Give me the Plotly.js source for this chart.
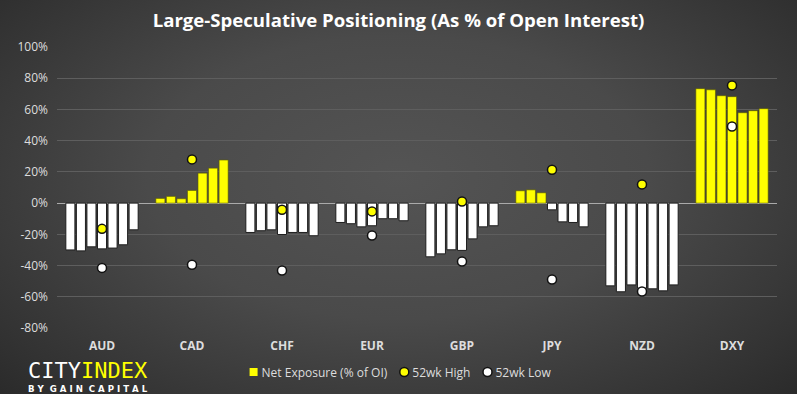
<!DOCTYPE html>
<html>
<head>
<meta charset="utf-8">
<script src="https://cdn.plot.ly/plotly-3.0.1.min.js"></script>
<style>
  html, body { margin: 0; padding: 0; }
  body { width: 797px; height: 394px; overflow: hidden;
    background: radial-gradient(ellipse 70% 80% at 50% 45%, #545454 0%, #4a4a4a 45%, #333333 85%, #2a2a2a 100%); }
  #chart { width: 797px; height: 394px; }
</style>
</head>
<body>
<div id="chart"></div>
<script>
// ---- Data (values in % of open interest) ----
const categories = ['AUD', 'CAD', 'CHF', 'EUR', 'GBP', 'JPY', 'NZD', 'DXY'];
const weeks = ['W1', 'W2', 'W3', 'W4', 'W5', 'W6', 'W7'];

const netAUD = [-30.0, -30.6, -28.0, -29.3, -28.8, -26.7, -17.1];
const netCAD = [3.0, 4.3, 2.8, 8.1, 19.2, 22.4, 27.6];
const netCHF = [-18.8, -17.7, -17.1, -20.1, -18.8, -18.8, -20.9];
const netEUR = [-12.4, -13.2, -15.2, -14.5, -10.0, -10.0, -11.3];
const netGBP = [-34.4, -32.5, -29.9, -30.3, -22.9, -15.2, -14.5];
const netJPY = [7.9, 8.5, 6.6, -4.3, -12.0, -12.4, -15.2];
const netNZD = [-53.0, -56.8, -52.4, -54.5, -54.9, -56.2, -52.4];
const netDXY = [73.3, 72.6, 68.8, 68.2, 57.9, 59.2, 60.5];

const high52 = [-16.5, 28.0, -4.3, -5.3, 1.0, 21.4, 12.0, 75.4];
const low52  = [-41.5, -39.5, -43.2, -20.7, -37.4, -48.9, -56.6, 49.1];

const yTickVals = [-80, -60, -40, -20, 0, 20, 40, 60, 80, 100];
const yTickText = ['-80%', '-60%', '-40%', '-20%', '0%', '20%', '40%', '60%', '80%', '100%'];

// ---- Build traces ----
const netByCat = [netAUD, netCAD, netCHF, netEUR, netGBP, netJPY, netNZD, netDXY];
const YELLOW = '#ffff00';
const WHITE = '#ffffff';

const traces = [];
weeks.forEach((w, wi) => {
  const ys = netByCat.map(arr => arr[wi]);
  traces.push({
    type: 'bar',
    name: w,
    x: categories,
    y: ys,
    showlegend: false,
    marker: {
      color: ys.map(v => v >= 0 ? YELLOW : WHITE),
      line: { color: ys.map(v => v >= 0 ? 'rgba(90,90,0,0.6)' : '#1e1e1e'), width: 1 }
    },
    hoverinfo: 'skip'
  });
});

// legend entry for the bars
traces.push({
  type: 'scatter', mode: 'markers', name: 'Net Exposure (% of OI)',
  x: [categories[0]], y: [null],
  marker: { symbol: 'square', color: YELLOW, size: 8 },
  hoverinfo: 'skip'
});

traces.push({
  type: 'scatter', mode: 'markers', name: '52wk High',
  x: categories, y: high52,
  marker: { color: YELLOW, size: 9, line: { color: '#111111', width: 1.5 } },
  hoverinfo: 'skip'
});
traces.push({
  type: 'scatter', mode: 'markers', name: '52wk Low',
  x: categories, y: low52,
  marker: { color: WHITE, size: 9, line: { color: '#111111', width: 1.5 } },
  hoverinfo: 'skip'
});

const layout = {
  width: 797, height: 394,
  paper_bgcolor: 'rgba(0,0,0,0)',
  plot_bgcolor: 'rgba(0,0,0,0)',
  margin: { l: 57, r: 20, t: 47, b: 66 },
  barmode: 'group',
  bargap: 0.18,
  bargroupgap: 0.14,
  font: { family: 'Open Sans, sans-serif', color: '#dddddd', size: 12 },
  title: {
    text: '<b>Large-Speculative Positioning (As % of Open Interest)</b>',
    font: { family: 'Open Sans, sans-serif', size: 18.6, color: '#ffffff' },
    x: 0.5, xref: 'container', xanchor: 'center',
    y: 1 - 20.5 / 394, yref: 'container', yanchor: 'middle'
  },
  xaxis: {
    type: 'category',
    showgrid: false, zeroline: false, showline: false, ticks: '',
    tickfont: { family: 'Open Sans, sans-serif', size: 12, color: '#dddddd', weight: 'bold' },
    ticklabelstandoff: 9
  },
  yaxis: {
    range: [-80, 100],
    tickvals: yTickVals, ticktext: yTickText,
    showgrid: true, gridcolor: '#5e5e5e', gridwidth: 1,
    zeroline: true, zerolinecolor: '#aaaaaa', zerolinewidth: 1,
    showline: false, ticks: '',
    tickfont: { family: 'Open Sans, sans-serif', size: 12, color: '#dddddd' },
    ticklabelstandoff: 8
  },
  showlegend: true,
  legend: {
    orientation: 'h',
    xref: 'container', yref: 'container',
    x: 0.5, xanchor: 'center',
    y: 1 - 372 / 394, yanchor: 'middle',
    font: { family: 'Open Sans, sans-serif', size: 12, color: '#dddddd' },
    bgcolor: 'rgba(0,0,0,0)',
    itemwidth: 30,
    tracegroupgap: 0
  },
  annotations: [
    {
      xref: 'paper', yref: 'paper',
      x: (26 - 57) / 720, y: (328 - 370.5) / 281,
      xanchor: 'left', yanchor: 'middle',
      text: '<span style="color:#ffffff">CITY</span><span style="color:#ffff00">INDEX</span>',
      showarrow: false,
      font: { family: 'DejaVu Sans Mono, monospace', size: 22 }
    },
    {
      xref: 'paper', yref: 'paper',
      x: (26 - 57) / 720, y: (328 - 389) / 281,
      xanchor: 'left', yanchor: 'middle',
      text: 'B Y  G A I N  C A P I T A L',
      showarrow: false,
      font: { family: 'DejaVu Sans, sans-serif', size: 8.6, color: '#ffffff', weight: 'bold' }
    }
  ]
};

Plotly.newPlot('chart', traces, layout, { staticPlot: true, displayModeBar: false }).then(gd => {
  // tighten legend: symbol-to-text gap and item spacing as in the reference
  const legend = gd.querySelector('g.legend');
  if (!legend) return;
  const items = Array.from(legend.querySelectorAll('g.traces'));
  if (!items.length) return;
  const parseT = el => {
    const m = /translate\(\s*([-\d.]+)[ ,]+([-\d.]+)/.exec(el.getAttribute('transform') || '');
    return m ? [parseFloat(m[1]), parseFloat(m[2])] : [0, 0];
  };
  let x = parseT(items[0])[0];
  items.forEach(it => {
    const t = it.querySelector('text.legendtext');
    const y = parseT(it)[1];
    if (t) t.setAttribute('x', 28);
    it.setAttribute('transform', `translate(${x},${y})`);
    const w = t ? t.getComputedTextLength() : 0;
    x += w + 25;
  });
  // recentre so first symbol left edge .. last text end is centred at 400
  const first = items[0].querySelector('.legendpoints');
  const lastT = items[items.length - 1].querySelector('text.legendtext');
  const l = first.getBoundingClientRect().left;
  const r = lastT.getBoundingClientRect().right;
  const delta = (252 + 549) / 2 - (l + r) / 2;
  const lt = parseT(legend);
  legend.setAttribute('transform', `translate(${lt[0] + delta},${lt[1]})`);
});
</script>
</body>
</html>
